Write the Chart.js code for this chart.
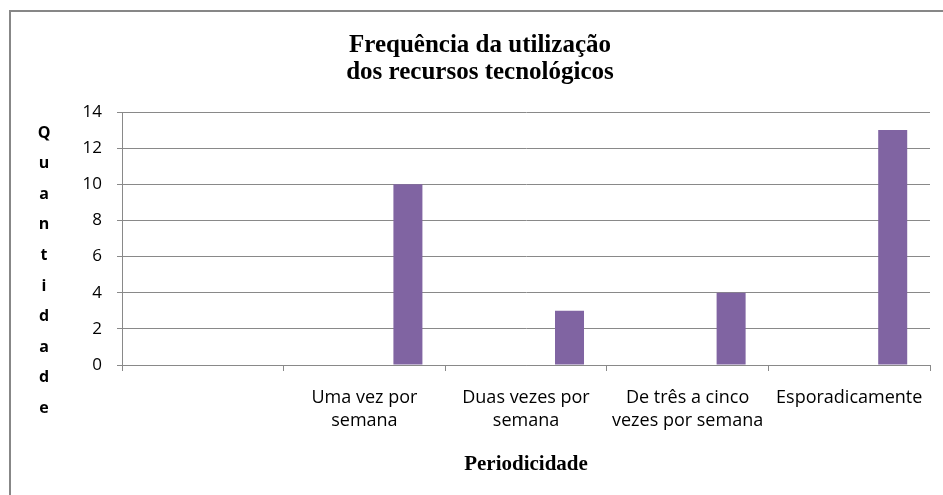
<!DOCTYPE html>
<html><head><meta charset="utf-8">
<script src="https://cdn.jsdelivr.net/npm/chart.js@4/dist/chart.umd.min.js"></script>
<style>
html,body{margin:0;padding:0;background:#fff;}
#wrap{position:relative;width:943px;height:495px;overflow:hidden;}
#frame{position:absolute;left:9px;top:10px;width:1000px;height:1000px;border-left:2px solid #878787;border-top:2px solid #878787;box-sizing:border-box;}
#c{position:absolute;left:0;top:0;}
</style></head>
<body>
<div id="wrap"><div id="frame"></div><canvas id="c" width="943" height="495"></canvas></div>
<script>
const titleLines = ["Frequência da utilização", "dos recursos tecnológicos"];
const yAxisTitle = "Quantidade";
const xAxisTitle = "Periodicidade";
const categories = ["", ["Uma vez por", "semana"], ["Duas vezes por", "semana"], ["De três a cinco", "vezes por semana"], "Esporadicamente"];
const emptySeries1 = [null, null, null, null, null];
const emptySeries2 = [null, null, null, null, null];
const emptySeries3 = [null, null, null, null, null];
const quantidade = [null, 10, 3, 4, 13];
const yTicks = [0, 2, 4, 6, 8, 10, 12, 14];

const gridColor = '#898989';
const barColor = '#8064A2';

const verticalTitle = {
  id: 'verticalTitle',
  afterDraw(chart) {
    const ctx = chart.ctx;
    ctx.save();
    ctx.font = 'bold 16px "Open Sans"';
    ctx.fillStyle = '#000';
    ctx.textAlign = 'center';
    ctx.textBaseline = 'middle';
    const letters = yAxisTitle.split('');
    letters.forEach((ch, i) => ctx.fillText(ch, 44, 133 + i * 30.6));
    ctx.restore();
  }
};

new Chart(document.getElementById('c'), {
  type: 'bar',
  data: {
    labels: categories,
    datasets: [
      {label: 'Série 1', data: emptySeries1, backgroundColor: barColor},
      {label: 'Série 2', data: emptySeries2, backgroundColor: barColor},
      {label: 'Série 3', data: emptySeries3, backgroundColor: barColor},
      {label: 'Quantidade', data: quantidade, backgroundColor: barColor}
    ]
  },
  options: {
    responsive: false,
    animation: false,
    devicePixelRatio: 1,
    layout: {padding: {left: 30, right: 13, top: 0, bottom: 0}},
    datasets: {bar: {categoryPercentage: 0.718, barPercentage: 1.0, borderWidth: 0}},
    plugins: {
      legend: {display: false},
      tooltip: {enabled: false},
      title: {
        display: true,
        text: titleLines,
        color: '#000',
        font: {family: '"Liberation Serif"', size: 25, weight: 'bold', lineHeight: 1.08},
        padding: {top: 32.5, bottom: 25.5}
      }
    },
    scales: {
      x: {
        afterFit(scale) { scale.height = 130; },
        grid: {display: true, drawOnChartArea: false, drawTicks: true, tickLength: 6, color: gridColor, offset: true},
        border: {display: true, color: gridColor},
        ticks: {color: '#000', font: {family: '"Open Sans"', size: 18, lineHeight: 1.28}, padding: 15.5, maxRotation: 0, autoSkip: false},
        title: {display: true, text: xAxisTitle, color: '#000', font: {family: '"Liberation Serif"', size: 21, weight: 'bold', lineHeight: 1.2}, padding: {top: 0, bottom: 17.5}}
      },
      y: {
        min: 0, max: 14,
        afterFit(scale) { scale.width = 92; },
        afterBuildTicks(scale) { scale.ticks = yTicks.map(v => ({value: v})); },
        grid: {color: gridColor, drawTicks: true, tickLength: 5},
        border: {display: true, color: gridColor},
        ticks: {color: '#000', font: {family: '"Open Sans"', size: 17}, padding: 15}
      }
    }
  },
  plugins: [verticalTitle]
});
</script>
</body></html>
